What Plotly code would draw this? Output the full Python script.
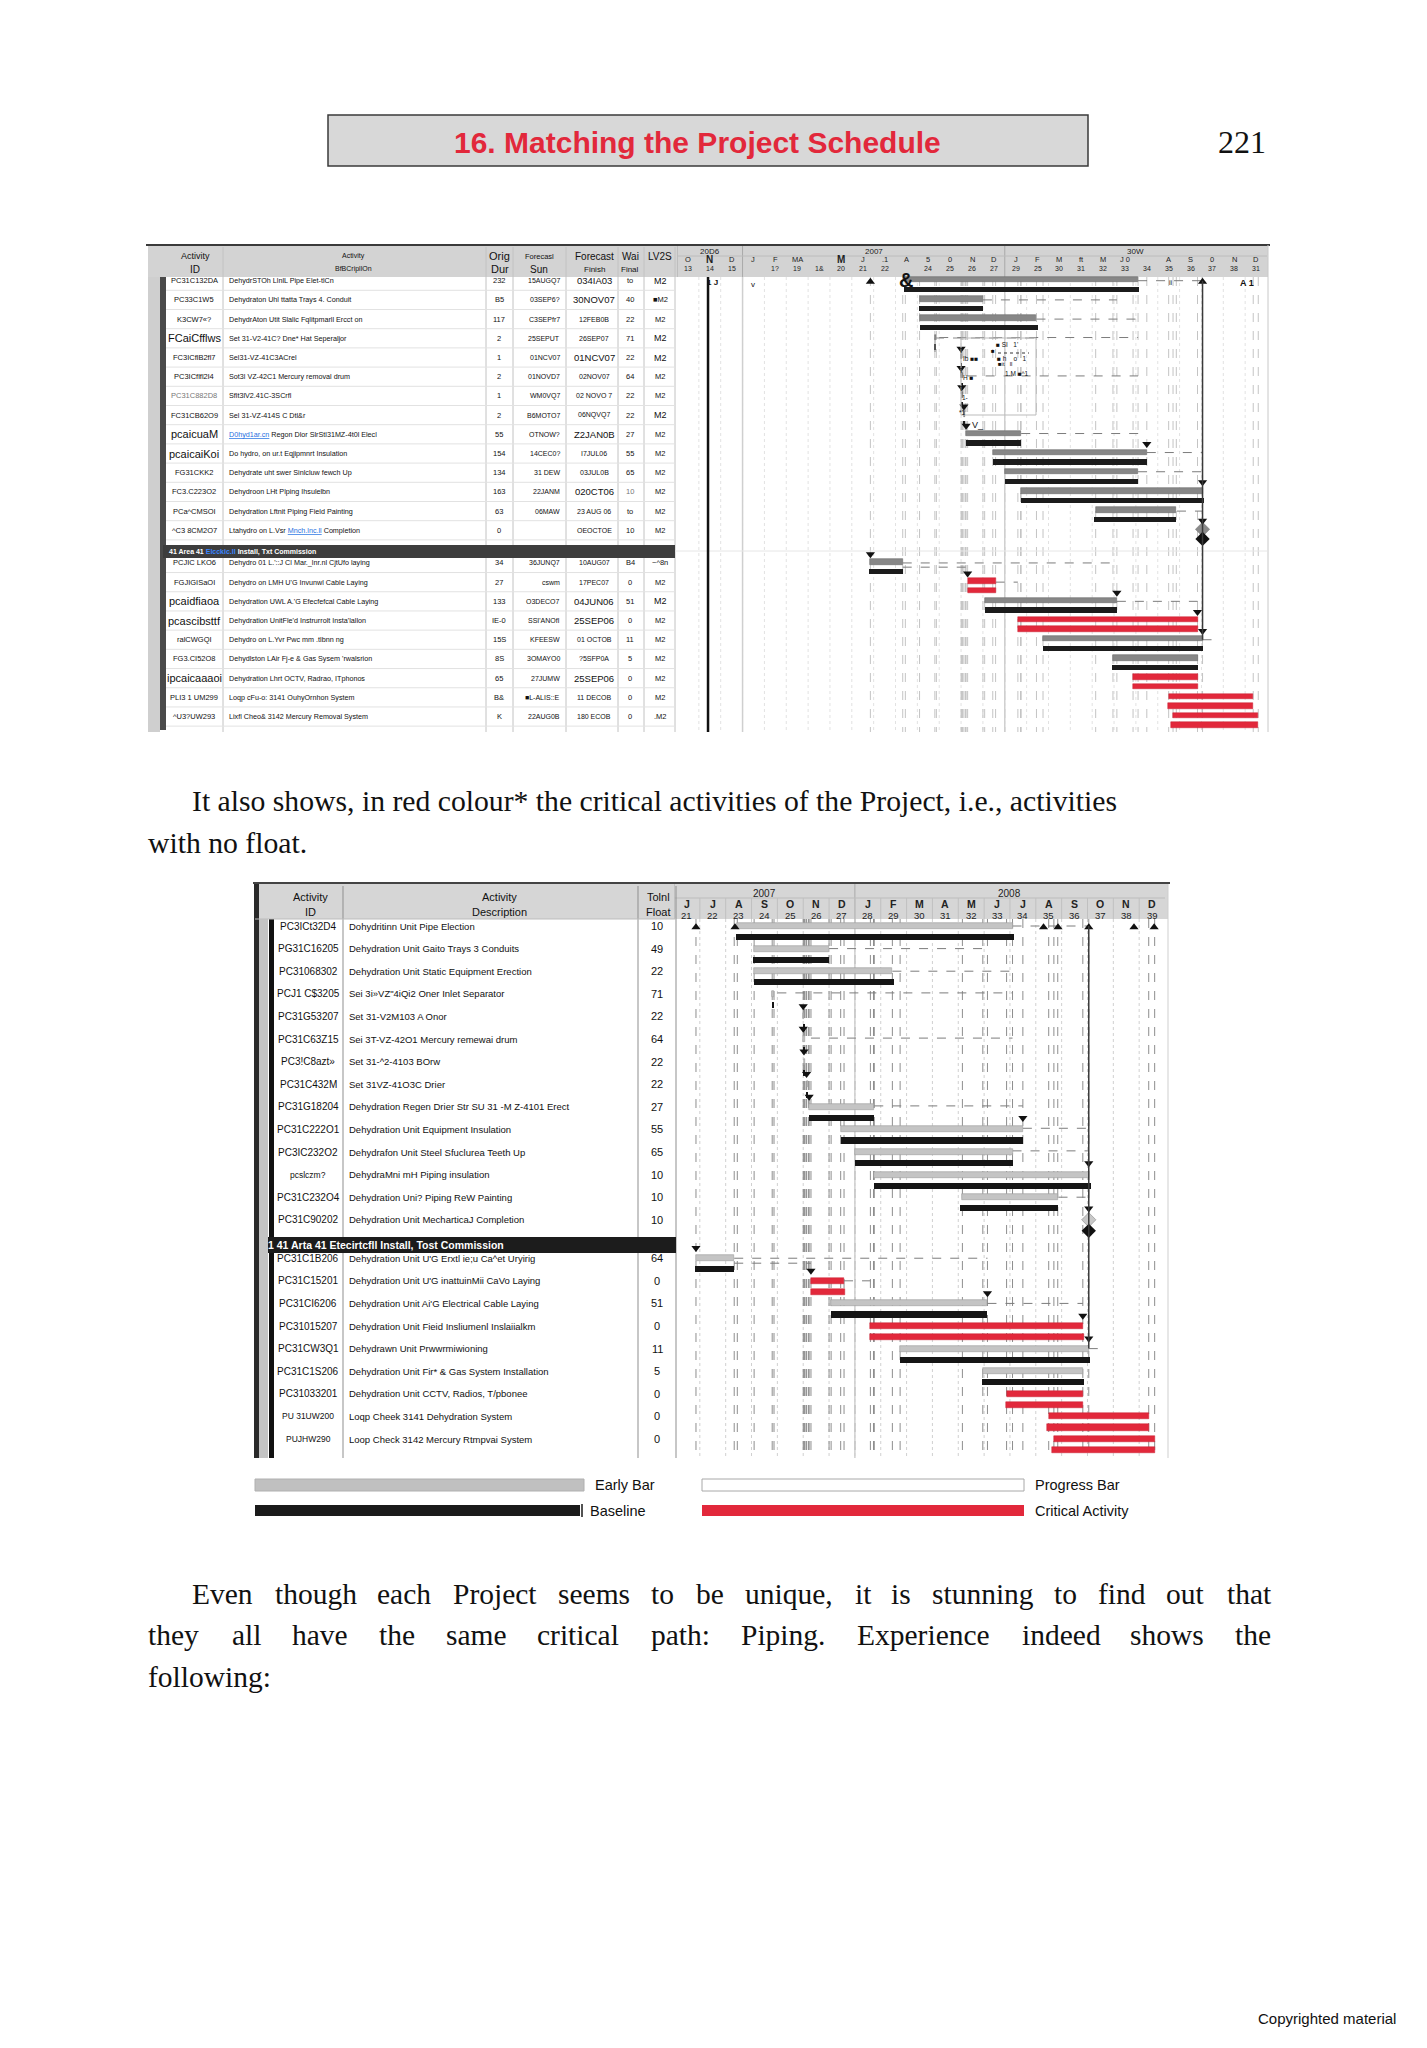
import plotly.graph_objects as go

# ====================== DATA ======================
# row positions (row units) – 14 rows, section band, 9 rows
row_pos = [0, 1, 2, 3, 4, 5, 6, 7, 8, 9, 10, 11, 12, 13,
           14.7, 15.7, 16.7, 17.7, 18.7, 19.7, 20.7, 21.7, 22.7]
section_pos = 14.1

# ---- chart 1 table ----
ids_1 = ["PC31C132DA", "PC33C1W5", "K3CW7«?", "FCaiCfflws", "FC3ICflB2fl7", "PC3ICflfl2l4",
         "PC31C882D8", "FC31CB62O9", "pcaicuaM", "pcaicaiKoi", "FG31CKK2", "FC3.C223O2",
         "PCa^CMSOI", "^C3 8CM2O7", "PCJIC LKO6", "FGJIGISaOI", "pcaidfiaoa", "pcascibsttf",
         "ralCWGQI", "FG3.CI52O8", "ipcaicaaaoi", "PLI3 1 UM299", "^U3?UW293"]
desc_1 = ["DehydrSTOh LlnlL Pipe Elet-tlCn",
          "Dehydraton Uhl ttatta Trays 4. Conduit",
          "DehydrAton Utit Slalic Fqlitpmarll Ercct on",
          "Set 31-V2-41C? Dne* Hat Seperaljor",
          "Sel31-VZ-41C3ACrel",
          "Sot3l VZ-42C1 Mercury removal drum",
          "Sflt3lV2.41C-3SCrfl",
          "Sel 31-VZ-414S C Dtl&r",
          "D0hyd1ar.cn Regon Dlor SlrStl31MZ-4t0l Elecl",
          "Do hydro, on ur.t Eqjipmnrt Insulation",
          "Dehydrate uht swer Sinlcluw fewch Up",
          "Dehydroon LHt Plping Ihsulelbn",
          "Dehydration Lftnit Piping Field Painting",
          "Ltahydro on L.Vsr Mnch.lnc.ll Completion",
          "Dehydro 01 L.'::J Cl Mar._lnr.nl CjtUfo laying",
          "Dehydro on LMH U'G Invunwl Cable Laying",
          "Dehydration UWL A.'G Efecfefcal Cable Laying",
          "Dehydration UnitFle'd Instrurrolt Insta'lallon",
          "Dehydro on L.Yvr Pwc mm .tlbnn ng",
          "Dehydlston LAir Fj-e & Gas Sysem 'rwalsrion",
          "Dehydration Lhrt OCTV, Radrao, ITphonos",
          "Loqp cFu-o: 3141 OuhyOrnhon System",
          "Lixfl Cheo& 3142 Mercury Removal System"]
orig_dur_1 = ["232", "B5", "117", "2", "1", "2", "1", "2", "55", "154", "134", "163", "63", "0",
              "34", "27", "133", "IE-0", "15S", "8S", "65", "B&", "K"]
fc_start_1 = ["15AUGQ7", "03SEP6?", "C3SEPfr7", "25SEPUT", "01NCV07", "01NOVD7", "WM0VQ7", "B6MOTO7",
              "OTNOW?", "14CEC0?", "31 DEW", "22JANM", "06MAW", "",
              "36JUNQ7", "cswm", "O3DECO7", "SSI'ANOfl", "KFEESW", "3OMAYO0", "27JUMW", "■L-ALIS::E", "22AUG0B"]
fc_finish_1 = ["034IA03", "30NOV07", "12FEB0B", "26SEP07", "01NCV07", "02NOV07", "02 NOVO 7", "06NQVQ7",
               "Z2JAN0B", "I7JUL06", "03JUL0B", "020CT06", "23 AUG 06", "OEOCTOE",
               "10AUG07", "17PEC07", "04JUN06", "25SEP06", "01 OCTOB", "?5SFP0A", "25SEP06", "11 DECOB", "180 ECOB"]
wai_final_1 = ["to", "40", "22", "71", "22", "64", "22", "22", "27", "55", "65", "10", "to", "10",
               "B4", "0", "51", "0", "11", "5", "0", "0", "0"]
lv2s_1 = ["M2", "■M2", "M2", "M2", "M2", "M2", "M2", "M2", "M2", "M2", "M2", "M2", "M2", "M2",
          "~^8n", "M2", "M2", "M2", "M2", "M2", "M2", "M2", ".M2"]
section_1_parts = ["41 Area 41 ", "Elcckic.ll", " Install, Txt Commission"]
header_1 = [("Activity", "ID"), ("Activity", "BfBCripllOn"), ("Orig", "Dur"), ("Forecasl", "Sun"),
            ("Forecast", "Finish"), ("Wai", "Final"), ("LV2S", "")]

# ---- chart 2 table ----
ids_2 = ["PC3ICt32D4", "PG31C16205", "PC31068302", "PCJ1 C$3205", "PC31G53207", "PC31C63Z15",
         "PC3!C8azt»", "PC31C432M", "PC31G18204", "PC31C222O1", "PC3IC232O2", "pcslczm?",
         "PC31C232O4", "PC31C90202", "PC31C1B206", "PC31C15201", "PC31CI6206", "PC31015207",
         "PC31CW3Q1", "PC31C1S206", "PC31033201", "PU 31UW200", "PUJHW290"]
desc_2 = ["Dohydritinn Unit Pipe Election",
          "Dehydration Unit Gaito Trays 3 Conduits",
          "Dehydration Unit Static Equipment Erection",
          "Sei 3i»VZ\"4iQi2 Oner Inlet Separator",
          "Set 31-V2M103 A Onor",
          "Sei 3T-VZ-42O1 Mercury remewai drum",
          "Set 31-^2-4103 BOrw",
          "Set 31VZ-41O3C Drier",
          "Dehydration Regen Drier Str SU 31 -M Z-4101 Erect",
          "Dehydration Unit Equipment Insulation",
          "Dehydrafon Unit Steel Sfuclurea Teeth Up",
          "DehydraMni mH Piping insulation",
          "Dehydration Uni? Piping ReW Painting",
          "Dehydration Unit MecharticaJ Completion",
          "Dehydration Unit U'G Erxtl ie;u Ca^et Uryirig",
          "Dehydration Unit U'G inattuinMii CaVo Laying",
          "Dehydration Unit Ai'G Electrical Cable Laying",
          "Dehydration Unit Fieid Insliumenl Inslaiialkm",
          "Dehydrawn Unit Prwwrmiwioning",
          "Dehydration Unit Fir* & Gas System Installation",
          "Dehydration Unit CCTV, Radios, T/pbonee",
          "Loqp Cheek 3141 Dehydration System",
          "Loop Check 3142 Mercury Rtmpvai System"]
float_2 = ["10", "49", "22", "71", "22", "64", "22", "22", "27", "55", "65", "10", "10", "10",
           "64", "0", "51", "0", "11", "5", "0", "0", "0"]
section_2 = "1 41 Arta 41 Etecirtcfll Install, Tost Commission"
header_2 = [("Activity", "ID"), ("Activity", "Description"), ("Tolnl", "Float")]

# ---- schedule (period/month units; 21 = start of Jun 2007) ----
early_start = [23.45, 24.1, 24.1, 24.8, 26.0, 26.0, 26.03, 26.13, 26.23, 27.45, 28.0, 28.72, 32.16, 37.05,
               21.85, 26.3, 27.08, 28.6, 29.75, 32.95, 33.87, 35.5, 35.7]
early_finish = [34.1, 27.0, 29.45, 24.87, 26.04, 26.07, 26.07, 26.2, 28.75, 34.5, 34.1, 37.05, 35.85, 37.05,
                23.33, 27.58, 33.13, 36.82, 37.05, 36.82, 36.82, 39.37, 39.6]
base_start = [23.4, 24.07, 24.1, 24.8, 26.0, 26.0, 26.03, 26.13, 26.23, 27.45, 28.0, 28.72, 32.08, 37.05,
              21.8, 26.3, 27.08, 28.6, 29.75, 32.92, 33.85, 35.45, 35.62]
base_finish = [34.15, 27.0, 29.5, 24.87, 26.04, 26.07, 26.07, 26.2, 28.75, 34.52, 34.1, 37.12, 35.85, 37.05,
               23.33, 27.62, 33.13, 36.85, 37.08, 36.85, 36.82, 39.37, 39.6]
critical = [0, 0, 0, 0, 0, 0, 0, 0, 0, 0, 0, 0, 0, 0, 0, 1, 0, 1, 0, 0, 1, 1, 1]
milestone = [0, 0, 0, 0, 0, 0, 0, 0, 0, 0, 0, 0, 0, 1, 0, 0, 0, 0, 0, 0, 0, 0, 0]
data_date_1 = 14.42

link_up_1 = [21.85, 37.05]
link_up_2 = [21.85, 23.36, 35.3, 35.86, 37.05, 38.8, 39.58]
link_down_x = [26.0, 26.0, 26.03, 26.13, 26.23, 34.5, 37.05, 37.05, 21.85, 26.3, 33.13, 36.82, 37.05]
link_down_row = [3.55, 4.55, 5.55, 6.55, 7.55, 8.5, 10.5, 12.5, 14.25, 15.25, 16.25, 17.25, 18.25]
conn_row = [0, 1, 2, 2.96, 4.96, 7.96, 8.95, 9.95, 12.0, 14.7, 14.92, 15.7, 16.7, 18.7]
conn_from = [34.1, 27.0, 29.45, 25.0, 26.3, 28.75, 34.5, 34.1, 35.88, 23.33, 23.33, 27.58, 33.13, 37.05]
conn_to = [37.05, 33.13, 34.1, 34.1, 34.1, 34.5, 37.05, 37.05, 37.05, 33.13, 26.3, 28.6, 36.82, 37.5]

# ---- time-scale headers ----
months_1 = list(range(13, 40))
month_letters_1 = ["O", "N", "D", "J", "F", "MA", "", "M", "J", ".1", "A", "5", "0", "N", "D",
                   "J", "F", "M", "ft", "M", "J 0", "", "A", "S", "0", "N", "D"]
month_nums_1 = ["13", "14", "15", "", "1?", "19", "1&", "20", "21", "22", "", "24", "25", "26", "27",
                "29", "25", "30", "31", "32", "33", "34", "35", "36", "37", "38", "31"]
years_1 = [("20D6", 13, 16), ("2007", 16, 28), ("30W", 28, 40)]
months_2 = list(range(21, 40))
month_letters_2 = ["J", "J", "A", "S", "O", "N", "D", "J", "F", "M", "A", "M", "J", "J", "A", "S", "O", "N", "D"]
month_nums_2 = [str(m) for m in months_2]
years_2 = [("2007", 21, 28), ("2008", 28, 40)]

legend_items = ["Early Bar", "Baseline", "Progress Bar", "Critical Activity"]

# ====================== LAYOUT HELPERS ======================
W, H = 1427, 2048
OFF = 8                      # default page margin of the html body
FW, FH = W - 2 * OFF, H - 2 * OFF
SANS = "Liberation Sans, Arial, Helvetica, sans-serif"
NARROW = "Liberation Sans Narrow, Arial Narrow, Liberation Sans, Arial, sans-serif"
SERIF = "Liberation Serif, Times New Roman, serif"
RED = "#e2283b"

shapes, ann = [], []


def px(x):
    return (x - OFF) / FW


def py(y):
    return 1 - (y - OFF) / FH


def rect(x0, y0, x1, y1, fill, line=None, lw=0, layer="below"):
    shapes.append(dict(type="rect", xref="paper", yref="paper", x0=px(x0), x1=px(x1),
                       y0=py(y1), y1=py(y0), fillcolor=fill,
                       line=dict(color=line or fill, width=lw), layer=layer))


def seg(x0, y0, x1, y1, color, w=1, dash="solid", layer="above"):
    shapes.append(dict(type="line", xref="paper", yref="paper", x0=px(x0), x1=px(x1),
                       y0=py(y0), y1=py(y1), line=dict(color=color, width=w, dash=dash), layer=layer))


def dseg(xref, yref, x0, y0, x1, y1, color, w=1, dash="solid", layer="below"):
    shapes.append(dict(type="line", xref=xref, yref=yref, x0=x0, x1=x1, y0=y0, y1=y1,
                       line=dict(color=color, width=w, dash=dash), layer=layer))


def txt(s, x, y, size, color="#111", family=SANS, xanchor="center", bold=False,
        xref="paper", yref="paper"):
    if bold:
        s = "<b>" + s + "</b>"
    ann.append(dict(text=s, x=px(x) if xref == "paper" else x, y=py(y) if yref == "paper" else y,
                    xref=xref, yref=yref, showarrow=False, xanchor=xanchor, yanchor="middle",
                    font=dict(size=size, color=color, family=family)))


# chart geometry (pixels)
C1 = dict(top=245, hdr=277, bottom=732, row0=280.7, rowh=19.2, gl=677, gr=1267, m0=13, xa="x", ya="y",
          off_e=-0.05, off_b=0.45, bw=0.28, early="#878787", edge="#6a6a6a", base="#1b1b1b", dia="#8a8a8a",
          grid="#c4c4c4", mgrid="#e2e2e2")
C2 = dict(top=884, hdr=919, bottom=1458, row0=926, rowh=22.6, gl=674, gr=1165, m0=21, xa="x2", ya="y2",
          off_e=0.0, off_b=0.49, bw=0.27, early="#c4c4c4", edge="#9c9c9c", base="#151515", dia="#c8c8c8",
          grid="#8e8e8e", mgrid="#d0d0d0")


def rrow(C, ypix):
    return (ypix - C["row0"]) / C["rowh"]


fig = go.Figure()

# ====================== PAGE TEXT ======================
rect(328, 115, 1088, 166, "#d8d8d8", "#3a3a3a", 1.5)
txt("16. Matching the Project Schedule", 697, 142, 30, RED, NARROW, bold=True)
txt("221", 1242, 142, 32, "#111", SERIF)

txt("It also shows, in red colour* the critical activities of the Project, i.e., activities",
    190, 801, 29.7, "#111", SERIF, xanchor="left")
txt("with no float.", 146, 843, 29.7, "#111", SERIF, xanchor="left")

p_lines = [
    (["Even", "though", "each", "Project", "seems", "to", "be", "unique,", "it", "is", "stunning",
      "to", "find", "out", "that"],
     [190, 273, 375, 451, 556, 649, 694, 743, 853, 889, 930, 1052, 1096, 1164, 1225], 1594),
    (["they", "all", "have", "the", "same", "critical", "path:", "Piping.", "Experience", "indeed",
      "shows", "the"],
     [146, 230, 290, 377, 444, 535, 649, 739, 855, 1020, 1128, 1233], 1635),
    (["following:"], [146], 1677),
]
for words, xs, yy in p_lines:
    for w_, x_ in zip(words, xs):
        txt(w_, x_, yy, 29.5, "#111", SERIF, xanchor="left")

txt("Copyrighted material", 1398, 2018, 15, "#111", NARROW, xanchor="right")

# ====================== CHART 1 TABLE ======================
rect(148, 245, 1268, 277, "#d3d3d3")
rect(148, 277, 160, 732, "#cfcfcf")
rect(160, 277, 166, 730, "#4a4a4a")
seg(146, 245, 1270, 245, "#3a3a3a", 2)
seg(1268, 245, 1268, 732, "#c8c8c8", 1)
for xc in [223, 486, 513, 566, 618, 644, 675]:
    seg(xc, 247, xc, 732, "#c2c2c2", 1)
for r in list(range(0, 14)) + [14.7 + k for k in range(9)]:
    yb = C1["row0"] + (r + 0.5) * C1["rowh"]
    seg(166, yb, 675, yb, "#e2e2e2", 1)
# section band chart 1
rect(163, 545, 675, 558, "#3d3d3d", layer="above")
seg(675, 551, 1267, 551, "#e6e6e6", 1)
txt(section_1_parts[0] + "<span style='color:#3a86ff'>" + section_1_parts[1] + "</span>" + section_1_parts[2],
    167, 552, 7, "#ffffff", SANS, xanchor="left", bold=True)

hdr_x1 = [195, 353, 500, 539, 594, 630, 660]
hdr_sz1 = [(9, 10), (7, 7), (11, 11), (7.5, 10), (10, 8), (10, 8), (10, 10)]
for (a, b), xh, (s1, s2) in zip(header_1, hdr_x1, hdr_sz1):
    txt(a, xh, 256, s1)
    if b:
        txt(b, xh, 269, s2)

id1_big = {3, 8, 9, 16, 17, 20}
fin1_big = {0, 1, 4, 8, 11, 16, 17, 20}
lv_big = {0, 3, 4, 7, 16}
link_words_1 = {8: "D0hyd1ar.cn", 13: "Mnch.lnc.ll"}
for i, r in enumerate(row_pos):
    kw = dict(xref="paper", yref="y")
    txt(ids_1[i], 194, r, 11 if i in id1_big else 7.5, "#777" if i == 6 else "#111", **kw)
    d = desc_1[i]
    if i in link_words_1:
        w_ = link_words_1[i]
        d = d.replace(w_, "<span style='color:#1f6fe0'><u>" + w_ + "</u></span>")
    txt(d, 227, r, 7.2, "#111", xanchor="left", **kw)
    txt(orig_dur_1[i], 499, r, 7.5, **kw)
    txt(fc_start_1[i], 562, r, 7, xanchor="right", **kw)
    txt(fc_finish_1[i], 594, r, 9.5 if i in fin1_big else 7, **kw)
    txt(wai_final_1[i], 630, r, 7.5, "#777" if i == 11 else "#111", **kw)
    txt(lv2s_1[i], 660, r, 9 if i in lv_big else 7.5, **kw)

# ====================== CHART 2 TABLE ======================
rect(255, 884, 1168, 919, "#d6d6d6")
seg(253, 883, 1170, 883, "#444444", 2)
rect(254, 884, 259, 1458, "#2a2a2a")
rect(259, 919, 268, 1458, "#c4c4c4")
rect(269, 919, 274, 1458, "#111111")
seg(1168, 884, 1168, 1458, "#cfcfcf", 1)
for xc in [343, 638, 676]:
    seg(xc, 886, xc, 1458, "#8f8f8f", 1)
seg(255, 919, 676, 919, "#bdbdbd", 1)
rect(268, 1237, 676, 1253, "#1c1c1c", layer="above")
txt(section_2, 266, 1245, 10.5, "#ffffff", SANS, xanchor="left", bold=True)
for (a, b), xh in zip(header_2, [310, 499, 658]):
    txt(a, xh, 897, 11)
    txt(b, xh, 912, 11)
for i, r in enumerate(row_pos):
    kw = dict(xref="paper", yref="y2")
    txt(ids_2[i], 308, r, 8.5 if i in (11, 21, 22) else 10, **kw)
    txt(desc_2[i], 347, r, 9.5, xanchor="left", **kw)
    txt(float_2[i], 657, r, 11, **kw)

# ====================== GANTT (both charts) ======================
for C, months, letters, nums, years, ups in [
        (C1, months_1, month_letters_1, month_nums_1, years_1, link_up_1),
        (C2, months_2, month_letters_2, month_nums_2, years_2, link_up_2)]:
    xa, ya = C["xa"], C["ya"]
    ytop_b, ybot_b = rrow(C, C["hdr"]), rrow(C, C["bottom"])
    # month boundaries (dotted) and link lines (dashed)
    for m in months[1:]:
        dseg(xa, ya, m, ytop_b, m, ybot_b, C["mgrid"], 1, "dot")
    for v in sorted(set(early_start + early_finish)):
        if v > C["m0"]:
            dseg(xa, ya, v, ytop_b, v, ybot_b, C["grid"], 1, "dash")
    # year separators in body
    for _, a, b in years[1:]:
        dseg(xa, ya, a, ytop_b, a, ybot_b, "#cfcfcf", 1.5, "solid")
    # connectors
    for r, a, b in zip(conn_row, conn_from, conn_to):
        dseg(xa, ya, a, r, b, r, "#7c7c7c", 1, "dash")
    dseg(xa, ya, 37.05, 0, 37.05, 18.7, "#3a3a3a", 1.5, "solid", "above")
    if C is C1:
        dseg(xa, ya, data_date_1, ytop_b, data_date_1, ybot_b, "#111111", 2.5, "solid", "above")

    # header: years, letters, numbers
    ytop = C["top"]
    hy = (ytop + 6, ytop + 14, ytop + 23) if C is C1 else (ytop + 9, ytop + 20, ytop + 31)
    for lab, a, b in years:
        ann.append(dict(text=lab, x=(a + b) / 2, y=py(hy[0]), xref=xa, yref="paper", showarrow=False,
                        font=dict(size=8 if C is C1 else 10, color="#222", family=SANS), yanchor="middle"))
        dseg(xa, "paper", a, py(C["top"]), a, py(C["hdr"]), "#a9a9a9", 1)
    dseg(xa, "paper", C["m0"], py(ytop + (11 if C is C1 else 14)), 40, py(ytop + (11 if C is C1 else 14)),
         "#bcbcbc", 1)
    for m, L, N in zip(months, letters, nums):
        big = C is C1 and L in ("N", "M") and m in (14, 20)
        ann.append(dict(text=("<b>" + L + "</b>") if (big or C is C2) else L, x=m + 0.5, y=py(hy[1]),
                        xref=xa, yref="paper", showarrow=False, yanchor="middle",
                        font=dict(size=(10 if big else 7.5) if C is C1 else 10.5, color="#222", family=SANS)))
        ann.append(dict(text=N, x=m + 0.5, y=py(hy[2]), xref=xa, yref="paper", showarrow=False,
                        yanchor="middle",
                        font=dict(size=7 if C is C1 else 9.5, color="#222", family=SANS)))
        if C is C2:
            dseg(xa, "paper", m, py(ytop + 14), m, py(C["hdr"]), "#c0c0c0", 1)

    # bars
    n = len(row_pos)
    nc = [i for i in range(n) if not critical[i] and not milestone[i]]
    cr = [i for i in range(n) if critical[i]]
    common = dict(orientation="h", xaxis=xa, yaxis=ya, width=C["bw"], showlegend=False, hoverinfo="skip")
    fig.add_trace(go.Bar(y=[row_pos[i] + C["off_e"] for i in nc],
                         x=[early_finish[i] - early_start[i] for i in nc],
                         base=[early_start[i] for i in nc],
                         marker=dict(color=C["early"], line=dict(color=C["edge"], width=0.6)), **common))
    fig.add_trace(go.Bar(y=[row_pos[i] + C["off_b"] for i in nc],
                         x=[base_finish[i] - base_start[i] for i in nc],
                         base=[base_start[i] for i in nc],
                         marker=dict(color=C["base"], line=dict(width=0)), **common))
    fig.add_trace(go.Bar(y=[row_pos[i] + C["off_e"] for i in cr],
                         x=[early_finish[i] - early_start[i] for i in cr],
                         base=[early_start[i] for i in cr],
                         marker=dict(color=RED, line=dict(color="#c81e30", width=0.5)), **common))
    fig.add_trace(go.Bar(y=[row_pos[i] + C["off_b"] for i in cr],
                         x=[base_finish[i] - base_start[i] for i in cr],
                         base=[base_start[i] for i in cr],
                         marker=dict(color=RED, line=dict(color="#c81e30", width=0.5)), **common))
    # milestone diamonds
    ms = [i for i in range(n) if milestone[i]]
    fig.add_trace(go.Scatter(x=[early_start[i] for i in ms], y=[row_pos[i] + C["off_e"] for i in ms],
                             mode="markers", xaxis=xa, yaxis=ya, showlegend=False, hoverinfo="skip",
                             marker=dict(symbol="diamond", size=11, color=C["dia"],
                                         line=dict(color="#777", width=0.5))))
    fig.add_trace(go.Scatter(x=[base_start[i] for i in ms], y=[row_pos[i] + C["off_b"] for i in ms],
                             mode="markers", xaxis=xa, yaxis=ya, showlegend=False, hoverinfo="skip",
                             marker=dict(symbol="diamond", size=11, color="#111")))
    # link arrows
    fig.add_trace(go.Scatter(x=ups, y=[0.05] * len(ups), mode="markers", xaxis=xa, yaxis=ya,
                             showlegend=False, hoverinfo="skip",
                             marker=dict(symbol="triangle-up", size=8, color="#111")))
    fig.add_trace(go.Scatter(x=link_down_x, y=link_down_row, mode="markers", xaxis=xa, yaxis=ya,
                             showlegend=False, hoverinfo="skip",
                             marker=dict(symbol="triangle-down", size=8, color="#111")))

# chart 1 garbled glyphs in the gantt
for s, gx, gy, sz in [("1 J", 712, 283, 8), ("v", 753, 285, 8), ("&", 906, 280, 20), ("ii", 1171, 283, 7),
                      ("A 1", 1247, 283, 9), ("T", 961, 350, 7), ("Ib ■■", 970, 358, 6.5),
                      ("T", 961, 370, 7), ("H ■", 968, 377, 6.5), ("T", 961, 388, 7), ("1-", 965, 397, 6.5),
                      ("*1", 963, 413, 6.5), ("■ SI   1'", 1007, 344, 6.5), ("■", 993, 351, 6),
                      ("■ h    o   1", 1012, 358, 6.5), ("■it   ll", 1005, 364, 6),
                      ("1.M ■^1", 1017, 373, 6.5), ("V_", 978, 425, 9)]:
    txt(s, gx, gy, sz, "#111", SANS, bold=(s in ("&", "A 1", "1 J")))
seg(935, 338, 1036, 338, "#8a8a8a", 1, "dash")
seg(935, 338, 935, 352, "#8a8a8a", 1, "solid")
rect(961, 338, 1036, 415, "rgba(0,0,0,0)", "#bbbbbb", 1, layer="above")
seg(998, 353, 1029, 353, "#333333", 1, "dot")

# ====================== LEGEND (chart 2) ======================
rect(255, 1479, 584, 1491, "#c0c0c0", "#b0b0b0", 1, layer="above")
rect(255, 1505, 580, 1516, "#1a1a1a", layer="above")
seg(582, 1504, 582, 1517, "#1a1a1a", 1.5)
rect(702, 1479, 1024, 1491, "#ffffff", "#a8a8a8", 1, layer="above")
rect(702, 1505, 1024, 1516, RED, layer="above")
txt(legend_items[0], 593, 1485, 14.5, "#111", NARROW, xanchor="left")
txt(legend_items[1], 588, 1511, 14.5, "#111", NARROW, xanchor="left")
txt(legend_items[2], 1033, 1485, 14.5, "#111", NARROW, xanchor="left")
txt(legend_items[3], 1033, 1511, 14.5, "#111", NARROW, xanchor="left")

# ====================== AXES ======================
ax_hidden = dict(visible=False, showgrid=False, zeroline=False, fixedrange=True)
fig.update_layout(
    width=FW, height=FH, margin=dict(l=0, r=0, t=0, b=0),
    paper_bgcolor="white", plot_bgcolor="rgba(0,0,0,0)",
    showlegend=False, barmode="overlay", bargap=0,
    xaxis=dict(domain=[px(C1["gl"]), px(C1["gr"])], range=[13, 40], anchor="y", **ax_hidden),
    yaxis=dict(domain=[py(C1["bottom"]), py(C1["top"])],
               range=[rrow(C1, C1["bottom"]), rrow(C1, C1["top"])], anchor="x", **ax_hidden),
    xaxis2=dict(domain=[px(C2["gl"]), px(C2["gr"])], range=[21, 40], anchor="y2", **ax_hidden),
    yaxis2=dict(domain=[py(C2["bottom"]), py(C2["top"])],
                range=[rrow(C2, C2["bottom"]), rrow(C2, C2["top"])], anchor="x2", **ax_hidden),
    shapes=shapes, annotations=ann,
)

fig.write_html("out.html")
